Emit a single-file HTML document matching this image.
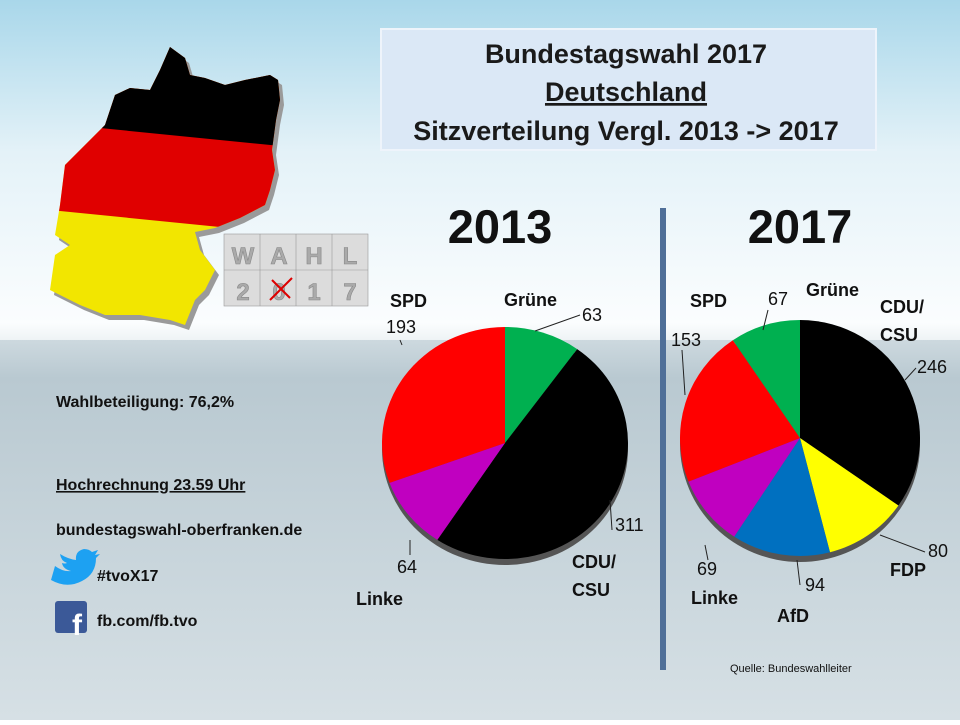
<!DOCTYPE html><html><head><meta charset="utf-8"><style>
body{margin:0;width:960px;height:720px;overflow:hidden;font-family:"Liberation Sans",sans-serif}
</style></head><body>
<svg width="960" height="720" viewBox="0 0 960 720" xmlns="http://www.w3.org/2000/svg" font-family="Liberation Sans, sans-serif">
<defs>
<linearGradient id="sky" x1="0" y1="0" x2="0" y2="1">
<stop offset="0" stop-color="#a9d7ea"/><stop offset="0.45" stop-color="#e4f2f8"/><stop offset="0.95" stop-color="#fbfdfe"/><stop offset="1" stop-color="#eef3f5"/></linearGradient>
<linearGradient id="floor" x1="0" y1="0" x2="0" y2="1">
<stop offset="0" stop-color="#cdd9df"/><stop offset="0.1" stop-color="#b9c9d1"/><stop offset="1" stop-color="#d6e0e5"/></linearGradient>
<clipPath id="de"><polygon points="170,47 185,58 190,75 205,78 225,85 245,80 270,75 278,80 280,100 276,120 272,150 275,170 270,190 265,205 240,218 215,228 195,232 200,250 215,270 205,290 195,300 185,325 170,320 140,315 105,315 80,305 50,290 55,255 70,245 55,235 60,205 65,165 80,150 105,125 115,95 130,88 150,90 160,70"/></clipPath>
</defs>
<rect width="960" height="340" fill="url(#sky)"/>
<rect y="340" width="960" height="380" fill="url(#floor)"/>
<g transform="translate(4,5)"><polygon points="170,47 185,58 190,75 205,78 225,85 245,80 270,75 278,80 280,100 276,120 272,150 275,170 270,190 265,205 240,218 215,228 195,232 200,250 215,270 205,290 195,300 185,325 170,320 140,315 105,315 80,305 50,290 55,255 70,245 55,235 60,205 65,165 80,150 105,125 115,95 130,88 150,90 160,70" fill="#9a9a9a"/></g>
<g clip-path="url(#de)">
<rect x="0" y="0" width="400" height="400" fill="#f2e600"/>
<polygon points="0,205 400,245 400,0 0,0" fill="#e00000"/>
<polygon points="0,118 400,158 400,0 0,0" fill="#000"/>
</g>
<g font-weight="bold" font-size="24" fill="#aaa" text-anchor="middle" stroke="#888" stroke-width="0.6">
<rect x="224" y="234" width="144" height="72" fill="#dcdcdc" stroke="#999"/>
<line x1="260" y1="234" x2="260" y2="306" stroke="#999"/><line x1="296" y1="234" x2="296" y2="306" stroke="#999"/><line x1="332" y1="234" x2="332" y2="306" stroke="#999"/><line x1="224" y1="270" x2="368" y2="270" stroke="#999"/>
<text x="243" y="264">W</text><text x="279" y="264">A</text><text x="314" y="264">H</text><text x="350" y="264">L</text>
<text x="243" y="300">2</text><text x="279" y="300">0</text><text x="314" y="300">1</text><text x="350" y="300">7</text>
<line x1="270" y1="300" x2="292" y2="278" stroke="#d00" stroke-width="2"/><line x1="272" y1="280" x2="290" y2="298" stroke="#d00" stroke-width="2"/>
</g>
<rect x="381" y="29" width="495" height="121" fill="#dbe8f6" stroke="#eef4fb" stroke-width="2"/>
<g font-weight="bold" font-size="27" fill="#1a1a1a" text-anchor="middle">
<text x="626" y="63">Bundestagswahl 2017</text>
<text x="626" y="101" text-decoration="underline">Deutschland</text>
<text x="626" y="140">Sitzverteilung Vergl. 2013 -&gt; 2017</text>
</g>
<text x="500" y="243" font-weight="bold" font-size="47" text-anchor="middle" fill="#111">2013</text>
<text x="800" y="243" font-weight="bold" font-size="47" text-anchor="middle" fill="#111">2017</text>
<rect x="660" y="208" width="6" height="462" fill="#4f6f98"/>
<g id="pies"></g>
<g font-size="18" fill="#111">
<text x="390" y="307" font-weight="bold">SPD</text><text x="386" y="333">193</text>
<text x="504" y="306" font-weight="bold">Grüne</text><text x="582" y="321">63</text>
<text x="615" y="531">311</text><text x="572" y="568" font-weight="bold">CDU/</text><text x="572" y="596" font-weight="bold">CSU</text>
<text x="397" y="573">64</text><text x="356" y="605" font-weight="bold">Linke</text>
<text x="690" y="307" font-weight="bold">SPD</text><text x="671" y="346">153</text>
<text x="768" y="305">67</text><text x="806" y="296" font-weight="bold">Grüne</text>
<text x="880" y="313" font-weight="bold">CDU/</text><text x="880" y="341" font-weight="bold">CSU</text><text x="917" y="373">246</text>
<text x="928" y="557">80</text><text x="890" y="576" font-weight="bold">FDP</text>
<text x="805" y="591">94</text><text x="777" y="622" font-weight="bold">AfD</text>
<text x="697" y="575">69</text><text x="691" y="604" font-weight="bold">Linke</text>
</g>
<g stroke="#222" stroke-width="1" fill="none">
<polyline points="535,331 580,315"/><polyline points="400,340 402,345"/><polyline points="610,500 612,530"/><polyline points="410,540 410,555"/>
<polyline points="763,330 768,310"/><polyline points="905,380 916,368"/><polyline points="880,535 925,552"/><polyline points="797,560 800,585"/><polyline points="705,545 708,560"/><polyline points="685,395 682,350"/>
</g>
<g font-weight="bold" font-size="16" fill="#111">
<text x="56" y="407">Wahlbeteiligung: 76,2%</text>
<text x="56" y="490" text-decoration="underline">Hochrechnung 23.59 Uhr</text>
<text x="56" y="535">bundestagswahl-oberfranken.de</text>
<text x="97" y="581">#tvoX17</text>
<text x="97" y="626">fb.com/fb.tvo</text>
</g>
<path d="M55,566 q8,6 16,5 q-8,-2 -9,-8 q3,1 5,0 q-6,-2 -7,-9 q8,5 16,6 q-1,-9 8,-11 q5,0 8,3 l6,-2 l-3,5 l5,-1 l-4,4 q0,16 -14,23 q-15,8 -31,-1z" fill="#1da1f2"/>
<rect x="55" y="601" width="32" height="32" rx="3" fill="#3b5998"/>
<text x="72" y="635" font-size="30" font-weight="bold" fill="#fff">f</text>
<text x="730" y="672" font-size="11" fill="#111">Quelle: Bundeswahlleiter</text>
</svg>
<script>
function pie(cx,cy,rx,ry,data){
 var g=document.getElementById('pies'),ns='http://www.w3.org/2000/svg',tot=0;data.forEach(d=>tot+=d[0]);
 var e=document.createElementNS(ns,'ellipse');e.setAttribute('cx',cx);e.setAttribute('cy',cy+6);e.setAttribute('rx',rx);e.setAttribute('ry',ry);e.setAttribute('fill','#555');g.appendChild(e);
 var a=0;data.forEach(d=>{var a1=a+d[0]/tot*2*Math.PI;
  var x0=cx+rx*Math.sin(a),y0=cy-ry*Math.cos(a),x1=cx+rx*Math.sin(a1),y1=cy-ry*Math.cos(a1);
  var p=document.createElementNS(ns,'path');
  p.setAttribute('d','M'+cx+','+cy+'L'+x0+','+y0+'A'+rx+','+ry+' 0 '+((a1-a)>Math.PI?1:0)+' 1 '+x1+','+y1+'Z');
  p.setAttribute('fill',d[1]);g.appendChild(p);a=a1;});
}
pie(505,443,123,116,[[63,'#00b050'],[311,'#000'],[64,'#c000c0'],[193,'#ff0000']]);
pie(800,438,120,118,[[246,'#000'],[80,'#ffff00'],[94,'#0070c0'],[69,'#c000c0'],[153,'#ff0000'],[67,'#00b050']]);
</script>
</body></html>
